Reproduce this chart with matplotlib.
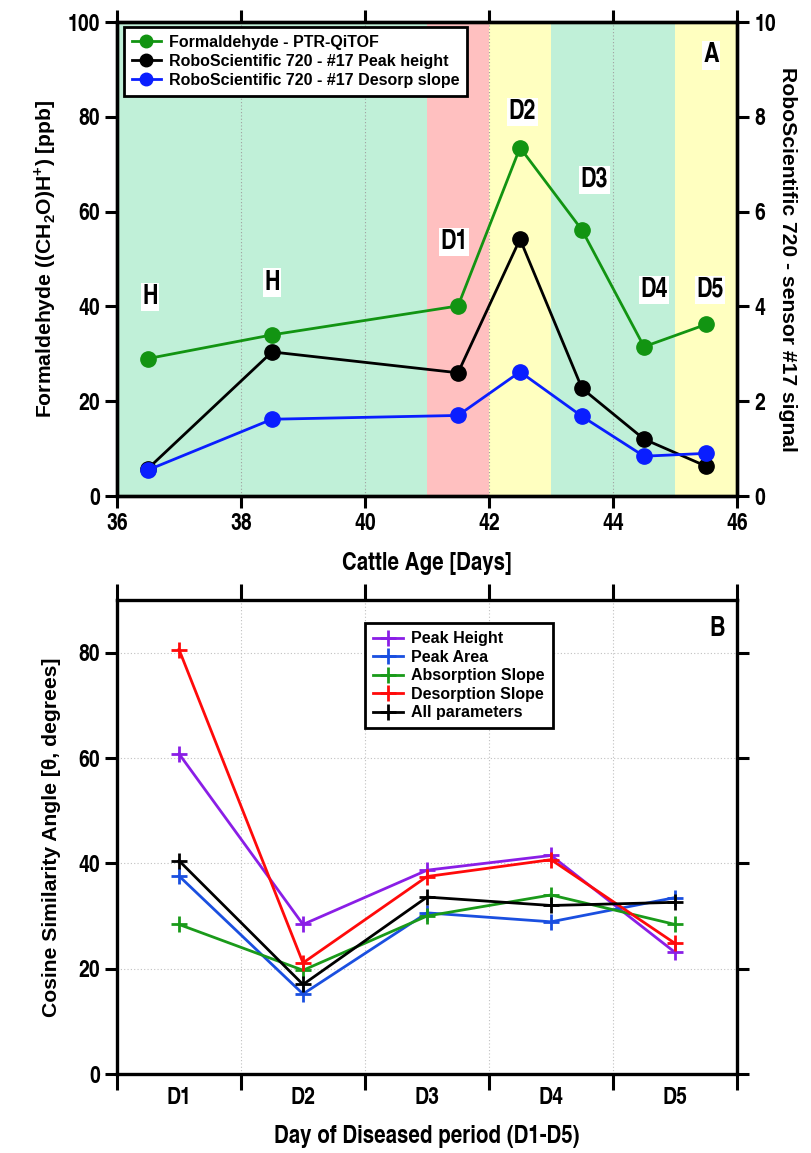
import matplotlib

matplotlib.use("Agg")
import matplotlib.pyplot as plt
from matplotlib.lines import Line2D

NARROW = ["TeX Gyre Heros Cn", "Liberation Sans", "DejaVu Sans"]
WIDE = ["Liberation Sans", "DejaVu Sans"]

plt.rcParams["mathtext.fontset"] = "custom"
plt.rcParams["mathtext.rm"] = "Liberation Sans:bold"
plt.rcParams["mathtext.bf"] = "Liberation Sans:bold"

# panel A: cattle age vs formaldehyde and sensor #17 signal
age = [36.5, 38.5, 41.5, 42.5, 43.5, 44.5, 45.5]
formaldehyde = [29.0, 34.0, 40.1, 73.5, 56.1, 31.5, 36.2]
peak_height = [0.58, 3.04, 2.60, 5.42, 2.27, 1.20, 0.63]
desorp_slope = [0.55, 1.62, 1.70, 2.62, 1.68, 0.84, 0.90]

bands = [(36, 41, "#c0f0d8"), (41, 42, "#ffc0c0"), (42, 43, "#ffffc0"),
         (43, 45, "#c0f0d8"), (45, 46, "#ffffc0")]
period_labels = ["H", "H", "D1", "D2", "D3", "D4", "D5"]
label_x = [36.53, 38.5, 41.44, 42.54, 43.7, 44.66, 45.56]
label_y = [42, 45, 53.6, 81, 66.7, 43.5, 43.5]

# panel B: cosine similarity angle per diseased day
days = ["D1", "D2", "D3", "D4", "D5"]
angle_series = {
    "Peak Height": [60.8, 28.4, 38.7, 41.5, 23.1],
    "Peak Area": [37.6, 15.2, 30.6, 28.9, 33.5],
    "Absorption Slope": [28.4, 19.7, 30.0, 34.0, 28.4],
    "Desorption Slope": [80.6, 21.1, 37.5, 40.7, 24.8],
    "All parameters": [40.5, 17.0, 33.6, 32.0, 32.6],
}
angle_colors = {
    "Peak Height": "#8a1ee6",
    "Peak Area": "#1a4fe0",
    "Absorption Slope": "#1a9a1a",
    "Desorption Slope": "#ff0a0a",
    "All parameters": "#000000",
}

GREEN = "#129412"
BLUE = "#0a1eff"
YLABEL_SIZE = 15.2


def style_ticks(ax):
    ax.tick_params(which="both", direction="out", length=8.5, width=2.2,
                   labelsize=17, pad=4)
    labels = (ax.get_xticklabels() + ax.get_yticklabels()
              + ax.get_xticklabels(minor=True))
    for lab in labels:
        lab.set_family(NARROW)
        lab.set_fontweight("bold")
    for sp in ax.spines.values():
        sp.set_linewidth(2.4)


fig = plt.figure(figsize=(8.11, 11.53), dpi=100)

# ---- panel A ----
ax = fig.add_axes([0.1443, 0.5698, 0.7645, 0.4111])
ax2 = ax.twinx()
for x0, x1, c in bands:
    ax.axvspan(x0, x1, color=c, zorder=0, lw=0)
for gx in [38, 40, 42, 44]:
    ax.axvline(gx, color="#a0a0a0", lw=0.8, ls=(0, (1, 2)), zorder=1)

ax.plot(age, formaldehyde, "-o", color=GREEN, lw=2, ms=11, zorder=3)
ax2.plot(age, peak_height, "-o", color="black", lw=2, ms=11, zorder=3)
ax2.plot(age, desorp_slope, "-o", color=BLUE, lw=2, ms=11, zorder=3)

ax.set_xlim(36, 46)
ax.set_ylim(0, 100)
ax2.set_ylim(0, 10)
ax.set_xticks(range(36, 47, 2))
ax.set_yticks(range(0, 101, 20))
ax2.set_yticks(range(0, 11, 2))
ax.tick_params(top=True)
style_ticks(ax)
style_ticks(ax2)

for t, x, y in zip(period_labels, label_x, label_y):
    ax2.text(x, y / 10, t, ha="center", va="center", fontsize=19,
             family=NARROW, fontweight="bold", zorder=5,
             bbox=dict(facecolor="white", edgecolor="none", pad=1))
ax2.text(45.58, 9.3, "A", ha="center", va="center", fontsize=19,
         family=NARROW, fontweight="bold", zorder=5,
         bbox=dict(facecolor="white", edgecolor="none", pad=1))

ax.set_xlabel("Cattle Age [Days]", fontsize=18, family=NARROW,
              fontweight="bold", labelpad=12)
ax.set_ylabel(r"Formaldehyde ((CH$_\mathbf{2}$O)H$^\mathbf{+}$) [ppb]",
              fontsize=YLABEL_SIZE, family=WIDE, fontweight="bold", labelpad=7)
ax2.set_ylabel("RoboScientific 720 - sensor #17 signal", fontsize=YLABEL_SIZE,
               family=WIDE, fontweight="bold", rotation=-90, labelpad=15)

handles = [
    Line2D([], [], color=GREEN, marker="o", lw=2, ms=9),
    Line2D([], [], color="black", marker="o", lw=2, ms=9),
    Line2D([], [], color=BLUE, marker="o", lw=2, ms=9),
]
leg = ax2.legend(handles, ["Formaldehyde - PTR-QiTOF",
                           "RoboScientific 720 - #17 Peak height",
                           "RoboScientific 720 - #17 Desorp slope"],
                 loc="upper left", bbox_to_anchor=(0.011, 0.99),
                 borderaxespad=0,
                 prop={"family": WIDE, "weight": "bold", "size": 11.5},
                 fancybox=False, framealpha=1, edgecolor="black",
                 handlelength=1.8, handletextpad=0.5, labelspacing=0.25,
                 borderpad=0.5)
leg.get_frame().set_linewidth(2)
leg.set_zorder(10)

# ---- panel B ----
bx = fig.add_axes([0.1443, 0.0685, 0.7645, 0.4111])
xpos = [i + 0.5 for i in range(len(days))]
for name, vals in angle_series.items():
    bx.plot(xpos, vals, "-+", color=angle_colors[name], lw=2, ms=12,
            mew=2, label=name, zorder=3)

bx.set_xlim(0, 5)
bx.set_ylim(0, 90)
bx.set_xticks(range(6))
bx.set_xticklabels([])
bx.set_xticks(xpos, minor=True)
bx.set_xticklabels(days, minor=True)
bx.set_yticks(range(0, 81, 20))
bx.tick_params(top=True, right=True)
style_ticks(bx)
bx.tick_params(axis="x", which="minor", length=0, pad=9)
bx.tick_params(axis="x", which="major", length=11.5)
for gx in range(1, 5):
    bx.axvline(gx, color="#c0c0c0", lw=0.8, ls=(0, (1, 2)), zorder=1)
for gy in range(20, 81, 20):
    bx.axhline(gy, color="#c0c0c0", lw=0.8, ls=(0, (1, 2)), zorder=1)

bx.text(4.84, 84.5, "B", ha="center", va="center", fontsize=19,
        family=NARROW, fontweight="bold")
bx.set_xlabel("Day of Diseased period (D1-D5)", fontsize=18, family=NARROW,
              fontweight="bold", labelpad=12)
bx.set_ylabel("Cosine Similarity Angle [\u03b8, degrees]",
              fontsize=YLABEL_SIZE, family=WIDE, fontweight="bold", labelpad=12)

leg2 = bx.legend(loc="upper left", bbox_to_anchor=(0.4, 0.951),
                 borderaxespad=0,
                 prop={"family": WIDE, "weight": "bold", "size": 11.5},
                 fancybox=False, framealpha=1, edgecolor="black",
                 handlelength=1.9, handletextpad=0.5, labelspacing=0.22,
                 borderpad=0.5)
leg2.get_frame().set_linewidth(2)

fig.savefig("out.png", dpi=100)
